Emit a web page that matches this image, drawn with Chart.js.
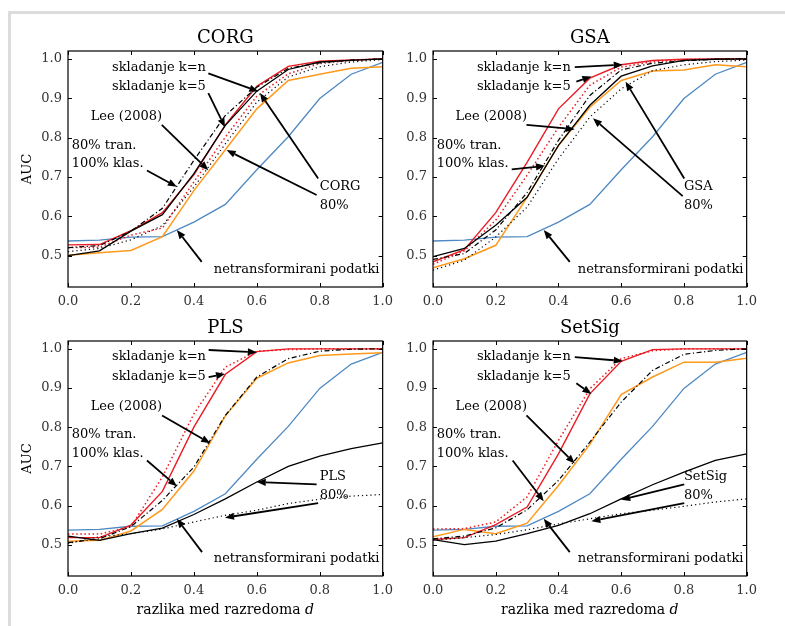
<!DOCTYPE html>
<html>
<head>
<meta charset="utf-8">
<script src="https://cdn.jsdelivr.net/npm/chart.js@4.4.1/dist/chart.umd.min.js"></script>
<style>
  body { margin: 0; background: #fff; }
  #page { position: relative; width: 785px; height: 626px; overflow: hidden; }
  #frame { position: absolute; left: 8px; top: 11px; width: 800px; height: 700px;
           border-top: 3px solid #dcdcdc; border-left: 3px solid #dcdcdc; }
  .panel { position: absolute; }
</style>
</head>
<body>
<div id="page">
  <div id="frame"></div>
  <div class="panel" style="left:0px;top:0px"><canvas id="corg" width="400" height="320"></canvas></div>
  <div class="panel" style="left:392px;top:0px"><canvas id="gsa" width="372" height="320"></canvas></div>
  <div class="panel" style="left:0px;top:290px"><canvas id="pls" width="400" height="336"></canvas></div>
  <div class="panel" style="left:392px;top:290px"><canvas id="setsig" width="372" height="336"></canvas></div>
</div>
<script>
// x values (razlika med razredoma d) and tick labels
const dValues = [0, 0.1, 0.2, 0.3, 0.4, 0.5, 0.6, 0.7, 0.8, 0.9, 1.0];
const xTicks = [0, 0.2, 0.4, 0.6, 0.8, 1.0];
const yTicks = [0.5, 0.6, 0.7, 0.8, 0.9, 1.0];

// netransformirani podatki (same in every panel)
const rawAuc = [0.537, 0.539, 0.547, 0.548, 0.585, 0.630, 0.718, 0.802, 0.899, 0.961, 0.991];

// CORG
const corgStackN = [0.527, 0.528, 0.563, 0.609, 0.705, 0.832, 0.930, 0.981, 0.994, 0.997, 1.0];
const corgStack5 = [0.520, 0.521, 0.552, 0.570, 0.687, 0.801, 0.905, 0.962, 0.988, 0.996, 1.0];
const corgLee = [0.501, 0.507, 0.513, 0.548, 0.665, 0.769, 0.873, 0.945, 0.961, 0.976, 0.980];
const corgTran = [0.520, 0.525, 0.562, 0.620, 0.742, 0.856, 0.928, 0.976, 0.990, 0.997, 1.0];
const corgMethod = [0.500, 0.512, 0.562, 0.604, 0.708, 0.831, 0.918, 0.973, 0.992, 0.996, 1.0];
const corgMethod80 = [0.510, 0.518, 0.540, 0.576, 0.674, 0.784, 0.890, 0.954, 0.980, 0.992, 0.998];

// GSA
const gsaStackN = [0.484, 0.515, 0.609, 0.737, 0.873, 0.951, 0.985, 0.996, 0.999, 1.0, 1.0];
const gsaStack5 = [0.478, 0.512, 0.590, 0.704, 0.826, 0.933, 0.979, 0.993, 0.998, 1.0, 1.0];
const gsaLee = [0.469, 0.492, 0.526, 0.648, 0.780, 0.877, 0.945, 0.969, 0.972, 0.985, 0.980];
const gsaTran = [0.490, 0.505, 0.565, 0.660, 0.793, 0.907, 0.972, 0.989, 0.995, 0.999, 1.0];
const gsaMethod = [0.497, 0.518, 0.577, 0.648, 0.780, 0.882, 0.956, 0.982, 0.996, 0.999, 1.0];
const gsaMethod80 = [0.463, 0.488, 0.547, 0.623, 0.746, 0.852, 0.924, 0.970, 0.985, 0.993, 0.997];

// PLS
const plsStackN = [0.518, 0.518, 0.550, 0.636, 0.800, 0.935, 0.993, 1.0, 1.0, 1.0, 1.0];
const plsStack5 = [0.527, 0.527, 0.546, 0.673, 0.834, 0.953, 0.994, 0.998, 1.0, 1.0, 1.0];
const plsLee = [0.509, 0.511, 0.535, 0.590, 0.688, 0.829, 0.925, 0.964, 0.983, 0.987, 0.990];
const plsTran = [0.505, 0.515, 0.546, 0.613, 0.698, 0.830, 0.928, 0.975, 0.994, 0.999, 1.0];
const plsMethod = [0.522, 0.511, 0.528, 0.542, 0.577, 0.617, 0.660, 0.700, 0.726, 0.745, 0.760];
const plsMethod80 = [0.503, 0.520, 0.528, 0.540, 0.558, 0.575, 0.588, 0.605, 0.616, 0.624, 0.628];

// SetSig
const setsigStackN = [0.513, 0.518, 0.551, 0.596, 0.732, 0.885, 0.968, 0.998, 1.0, 1.0, 1.0];
const setsigStack5 = [0.540, 0.541, 0.558, 0.622, 0.766, 0.898, 0.975, 0.995, 1.0, 1.0, 1.0];
const setsigLee = [0.520, 0.539, 0.528, 0.555, 0.651, 0.756, 0.883, 0.928, 0.966, 0.966, 0.976];
const setsigTran = [0.515, 0.522, 0.543, 0.589, 0.664, 0.762, 0.864, 0.945, 0.986, 0.996, 1.0];
const setsigMethod = [0.513, 0.500, 0.509, 0.528, 0.549, 0.579, 0.617, 0.653, 0.685, 0.715, 0.732];
const setsigMethod80 = [0.511, 0.518, 0.526, 0.538, 0.553, 0.566, 0.579, 0.588, 0.598, 0.609, 0.617];

// arrows [fromX, fromY, toX, toY] in data units, order: k=n, k=5, Lee, tran, method, method 80%, raw
const corgArrows = [[0.446, 0.963, 0.605, 0.917], [0.446, 0.913, 0.499, 0.826], [0.298, 0.832, 0.446, 0.717],
  [0.251, 0.716, 0.346, 0.675], [0.795, 0.696, 0.610, 0.913], [0.790, 0.654, 0.504, 0.768], [0.425, 0.484, 0.346, 0.565]];
const gsaArrows = [[0.452, 0.979, 0.605, 0.985], [0.457, 0.942, 0.505, 0.955], [0.298, 0.832, 0.452, 0.821],
  [0.251, 0.719, 0.357, 0.728], [0.801, 0.696, 0.614, 0.942], [0.796, 0.651, 0.510, 0.849], [0.436, 0.484, 0.353, 0.565]];
const plsArrows = [[0.447, 0.997, 0.600, 0.991], [0.447, 0.928, 0.499, 0.936], [0.299, 0.830, 0.452, 0.759],
  [0.251, 0.715, 0.346, 0.649], [0.790, 0.654, 0.600, 0.660], [0.795, 0.606, 0.499, 0.569], [0.426, 0.481, 0.346, 0.566]];
const setsigArrows = [[0.452, 0.979, 0.605, 0.969], [0.457, 0.912, 0.505, 0.885], [0.298, 0.830, 0.452, 0.707],
  [0.254, 0.715, 0.353, 0.611], [0.801, 0.654, 0.600, 0.615], [0.801, 0.606, 0.505, 0.560], [0.436, 0.481, 0.353, 0.566]];

const SERIF = '"DejaVu Serif", serif';
const RED = '#ea1c24', ORANGE = '#ff9a1c', BLUE = '#4f89c3';

function pts(arr) {
  return arr.map((v, i) => ({ x: dValues[i], y: v }));
}

function arrow(ctx, x0, y0, x1, y1) {
  const a = Math.atan2(y1 - y0, x1 - x0);
  const hl = 9, hw = 3.6;
  const bx = x1 - hl * Math.cos(a), by = y1 - hl * Math.sin(a);
  ctx.beginPath();
  ctx.moveTo(x0, y0);
  ctx.lineTo(bx, by);
  ctx.stroke();
  ctx.beginPath();
  ctx.moveTo(x1, y1);
  ctx.lineTo(bx + hw * Math.sin(a), by - hw * Math.cos(a));
  ctx.lineTo(bx - hw * Math.sin(a), by + hw * Math.cos(a));
  ctx.closePath();
  ctx.fill();
}

// frame, inward ticks, title, axis labels and annotations
const panelDecor = {
  id: 'panelDecor',
  afterDraw(chart, args, opts) {
    const { ctx, chartArea: a, scales: { x, y } } = chart;
    ctx.save();
    ctx.strokeStyle = '#000';
    ctx.lineWidth = 1.2;
    ctx.strokeRect(a.left, a.top, a.right - a.left, a.bottom - a.top);
    ctx.lineWidth = 1;
    ctx.beginPath();
    x.ticks.forEach(t => {
      const px = Math.round(x.getPixelForValue(t.value)) + 0.5;
      ctx.moveTo(px, a.bottom); ctx.lineTo(px, a.bottom - 4);
      ctx.moveTo(px, a.top); ctx.lineTo(px, a.top + 4);
    });
    y.ticks.forEach(t => {
      const py = Math.round(y.getPixelForValue(t.value)) + 0.5;
      ctx.moveTo(a.left, py); ctx.lineTo(a.left + 4, py);
      ctx.moveTo(a.right, py); ctx.lineTo(a.right - 4, py);
    });
    ctx.stroke();

    const cx = (a.left + a.right) / 2;
    ctx.fillStyle = '#000';
    ctx.textAlign = 'center';
    ctx.textBaseline = 'middle';
    ctx.font = '18px ' + SERIF;
    ctx.fillText(opts.title, cx, a.top - 12.5);

    if (opts.yLabel) {
      ctx.save();
      ctx.font = '13px ' + SERIF;
      ctx.translate(28, (a.top + a.bottom) / 2);
      ctx.rotate(-Math.PI / 2);
      ctx.fillText('AUC', 0, 0);
      ctx.restore();
    }
    if (opts.xLabel) {
      ctx.font = '14px ' + SERIF;
      const main = 'razlika med razredoma ';
      const w1 = ctx.measureText(main).width;
      ctx.font = 'italic 14px ' + SERIF;
      const w2 = ctx.measureText('d').width;
      const left = cx - (w1 + w2) / 2;
      ctx.textAlign = 'left';
      ctx.font = '14px ' + SERIF;
      ctx.fillText(main, left, a.bottom + 34);
      ctx.font = 'italic 14px ' + SERIF;
      ctx.fillText('d', left + w1, a.bottom + 34);
    }

    ctx.font = '13px ' + SERIF;
    opts.labels.forEach(l => {
      ctx.textAlign = l.align;
      ctx.fillText(l.text, x.getPixelForValue(l.x), y.getPixelForValue(l.y));
    });
    ctx.lineWidth = 1.8;
    opts.arrows.forEach(r => {
      arrow(ctx, x.getPixelForValue(r[0]), y.getPixelForValue(r[1]),
        x.getPixelForValue(r[2]), y.getPixelForValue(r[3]));
    });
    ctx.restore();
  }
};

function makePanel(id, title, name, series, arrows, isLeft, isBottom) {
  const labels = [
    { text: 'skladanje k=n', x: 0.14, y: 0.979, align: 'left' },
    { text: 'skladanje k=5', x: 0.14, y: 0.930, align: 'left' },
    { text: 'Lee (2008)', x: 0.072, y: 0.853, align: 'left' },
    { text: '80% tran.', x: 0.012, y: 0.780, align: 'left' },
    { text: '100% klas.', x: 0.012, y: 0.733, align: 'left' },
    { text: name, x: 0.80, y: 0.675, align: 'left' },
    { text: '80%', x: 0.80, y: 0.626, align: 'left' },
    { text: 'netransformirani podatki', x: 0.99, y: 0.465, align: 'right' }
  ];
  const line = (data, color, dash, width) => ({
    data: pts(data), borderColor: color, borderWidth: width, borderDash: dash,
    borderCapStyle: 'butt', pointRadius: 0, tension: 0, fill: false
  });
  // first dataset is drawn on top
  const datasets = [
    line(series.tran, '#000', [5, 2.5, 1.2, 2.5], 1.2),
    line(series.method80, '#000', [1.2, 3], 1.2),
    line(series.method, '#000', [], 1.3),
    line(series.stack5, RED, [1.5, 2.6], 1.5),
    line(series.stackN, RED, [], 1.4),
    line(series.lee, ORANGE, [], 1.5),
    line(rawAuc, BLUE, [], 1.3)
  ];
  const yWidth = isLeft ? 68 : 41;
  new Chart(document.getElementById(id), {
    type: 'line',
    data: { datasets },
    plugins: [panelDecor],
    options: {
      responsive: false,
      animation: false,
      events: [],
      layout: { padding: { top: 51, right: 15, left: 0, bottom: isBottom ? 22 : 5 } },
      plugins: {
        legend: { display: false },
        tooltip: { enabled: false },
        panelDecor: { title, labels, arrows, yLabel: isLeft, xLabel: isBottom }
      },
      scales: {
        x: {
          type: 'linear', min: 0, max: 1,
          grid: { display: false, drawTicks: false },
          border: { display: false },
          afterBuildTicks: s => { s.ticks = xTicks.map(v => ({ value: v })); },
          afterFit: s => { s.height = 28; },
          ticks: { padding: 7, color: '#333', font: { family: SERIF, size: 13 },
                   maxRotation: 0, callback: v => v.toFixed(1) }
        },
        y: {
          min: 0.42, max: 1.02,
          grid: { display: false, drawTicks: false },
          border: { display: false },
          afterBuildTicks: s => { s.ticks = yTicks.map(v => ({ value: v })); },
          afterFit: s => { s.width = yWidth; },
          ticks: { padding: 6, color: '#333', font: { family: SERIF, size: 13 },
                   callback: v => v.toFixed(1) }
        }
      }
    }
  });
}

makePanel('corg', 'CORG', 'CORG',
  { stackN: corgStackN, stack5: corgStack5, lee: corgLee, tran: corgTran, method: corgMethod, method80: corgMethod80 },
  corgArrows, true, false);
makePanel('gsa', 'GSA', 'GSA',
  { stackN: gsaStackN, stack5: gsaStack5, lee: gsaLee, tran: gsaTran, method: gsaMethod, method80: gsaMethod80 },
  gsaArrows, false, false);
makePanel('pls', 'PLS', 'PLS',
  { stackN: plsStackN, stack5: plsStack5, lee: plsLee, tran: plsTran, method: plsMethod, method80: plsMethod80 },
  plsArrows, true, true);
makePanel('setsig', 'SetSig', 'SetSig',
  { stackN: setsigStackN, stack5: setsigStack5, lee: setsigLee, tran: setsigTran, method: setsigMethod, method80: setsigMethod80 },
  setsigArrows, false, true);
</script>
</body>
</html>
